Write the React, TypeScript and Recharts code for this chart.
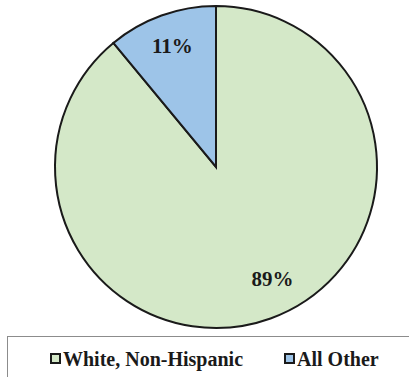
import React from "react";
import { PieChart, Pie, Cell, Legend } from "recharts";

const categories = ["White, Non-Hispanic", "All Other"];
const values = [89, 11];
const colors = ["#d4e8c8", "#9dc4e8"];

const data = categories.map((name, i) => ({ name, value: values[i] }));

const RADIAN = Math.PI / 180;
const SERIF = "'Liberation Serif', 'Times New Roman', serif";

const renderLabel = (props: any) => {
  const { cx, cy, midAngle, outerRadius, value, index } = props;
  const r = outerRadius * (index === 0 ? 0.78 : 0.8);
  const shift = index === 0 ? 7 : 0;
  const a = (midAngle + shift) * RADIAN;
  const x = cx + r * Math.cos(a);
  const y = cy - r * Math.sin(a);
  return (
    <text
      x={x}
      y={y}
      textAnchor="middle"
      dominantBaseline="central"
      fontFamily={SERIF}
      fontWeight="bold"
      fontSize={21}
      fill="#1a1a1a"
    >
      {`${value}%`}
    </text>
  );
};

const LegendContent = () => (
  <div
    style={{
      width: 410,
      height: 48,
      borderTop: "1px solid #8c8c8c",
      borderLeft: "1px solid #8c8c8c",
      boxSizing: "border-box",
      display: "flex",
      alignItems: "flex-start",
      paddingLeft: 42,
      paddingTop: 11,
      fontFamily: SERIF,
      fontWeight: "bold",
      fontSize: 20,
      lineHeight: "23px",
      color: "#1a1a1a",
      whiteSpace: "nowrap",
    }}
  >
    {categories.map((c, i) => (
      <div
        key={c}
        style={{ display: "flex", alignItems: "flex-start", marginRight: i === 0 ? 41 : 0 }}
      >
        <span
          style={{
            display: "inline-block",
            boxSizing: "border-box",
            width: 11,
            height: 11,
            background: colors[i],
            border: "2px solid #1a1a1a",
            marginTop: 5,
            marginRight: 2,
          }}
        />
        <span>{c}</span>
      </div>
    ))}
  </div>
);

export default function App() {
  return (
    <div style={{ position: "absolute", left: 0, top: 0, width: 409, height: 377, background: "#fff", overflow: "hidden" }}>
      <PieChart width={409} height={377} margin={{ top: 0, right: 0, bottom: 0, left: 0 }}>
        <Pie
          data={data}
          dataKey="value"
          nameKey="name"
          cx={216}
          cy={167}
          outerRadius={161}
          startAngle={90}
          endAngle={-270}
          stroke="#1a1a1a"
          strokeWidth={2}
          label={renderLabel}
          labelLine={false}
          isAnimationActive={false}
        >
          {data.map((d, i) => (
            <Cell key={d.name} fill={colors[i]} />
          ))}
        </Pie>
        <Legend
          content={<LegendContent />}
          wrapperStyle={{ position: "absolute", left: 7, top: 336, width: 410, height: 48 }}
        />
      </PieChart>
    </div>
  );
}
